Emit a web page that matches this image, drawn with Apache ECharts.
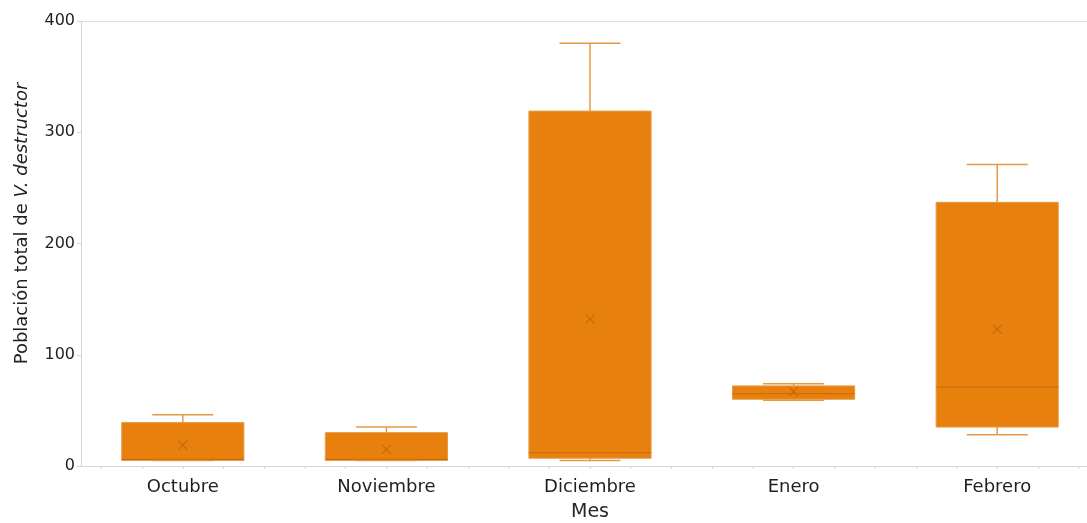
<!DOCTYPE html>
<html>
<head>
<meta charset="utf-8">
<script src="https://cdn.jsdelivr.net/npm/echarts@6/dist/echarts.min.js"></script>
<style>
  html, body { margin: 0; padding: 0; background: #fff; overflow: hidden; }
  #chart { width: 1087px; height: 523px; }
</style>
</head>
<body>
<div id="chart"></div>
<script>
// datos
var meses = ['Octubre', 'Noviembre', 'Diciembre', 'Enero', 'Febrero'];
var minimos = [5, 5, 5, 59, 28];
var q1 = [5, 5, 7, 60, 35];
var medianas = [6, 6, 12, 65, 71];
var q3 = [39, 30, 319, 72, 237];
var maximos = [46, 35, 380, 74, 271];
var medias = [19, 15, 132, 67, 123];
var yTicks = [0, 100, 200, 300, 400];

var relleno = '#E8800D';
var bigote = '#E69A45';
var oscuro = '#C9680E';

var datos = meses.map(function (m, i) {
  return [i, minimos[i], q1[i], medianas[i], q3[i], maximos[i], medias[i]];
});

function renderItem(params, api) {
  var i = api.value(0);
  var band = api.size([1, 0])[0];
  var boxW = band * 0.6;
  var capW = boxW * 0.5;
  var pMin = api.coord([i, api.value(1)]);
  var pQ1 = api.coord([i, api.value(2)]);
  var pMed = api.coord([i, api.value(3)]);
  var pQ3 = api.coord([i, api.value(4)]);
  var pMax = api.coord([i, api.value(5)]);
  var pMean = api.coord([i, api.value(6)]);
  var x = pMin[0];
  var ls = { stroke: bigote, lineWidth: 1.5 };
  var s = 4.5;
  return {
    type: 'group',
    children: [
      { type: 'line', shape: { x1: x, y1: pMax[1], x2: x, y2: pQ3[1] }, style: ls },
      { type: 'line', shape: { x1: x, y1: pQ1[1], x2: x, y2: pMin[1] }, style: ls },
      { type: 'line', shape: { x1: x - capW / 2, y1: pMax[1], x2: x + capW / 2, y2: pMax[1] }, style: ls },
      { type: 'line', shape: { x1: x - capW / 2, y1: pMin[1], x2: x + capW / 2, y2: pMin[1] }, style: ls },
      { type: 'rect', shape: { x: x - boxW / 2, y: pQ3[1], width: boxW, height: pQ1[1] - pQ3[1] },
        style: { fill: relleno, stroke: bigote, lineWidth: 1 } },
      { type: 'line', shape: { x1: x - boxW / 2, y1: pMed[1], x2: x + boxW / 2, y2: pMed[1] },
        style: { stroke: oscuro, lineWidth: 1 } },
      { type: 'line', shape: { x1: pMean[0] - s, y1: pMean[1] - s, x2: pMean[0] + s, y2: pMean[1] + s },
        style: { stroke: oscuro, lineWidth: 1.2 } },
      { type: 'line', shape: { x1: pMean[0] - s, y1: pMean[1] + s, x2: pMean[0] + s, y2: pMean[1] - s },
        style: { stroke: oscuro, lineWidth: 1.2 } }
    ]
  };
}

var chart = echarts.init(document.getElementById('chart'));
chart.setOption({
  animation: false,
  textStyle: { fontFamily: 'DejaVu Sans' },
  grid: [
    { left: 81, width: 1018, top: 21, bottom: 57, outerBoundsMode: 'none', containLabel: false },
    { left: 101.36, width: 977.28, top: 21, bottom: 57, outerBoundsMode: 'none', containLabel: false }
  ],
  xAxis: [
    {
      type: 'category',
      gridIndex: 0,
      data: meses,
      name: 'Mes',
      nameLocation: 'middle',
      nameGap: 37,
      nameTextStyle: { fontSize: 19, color: '#262626' },
      axisLine: { lineStyle: { color: '#d6d6d6' } },
      axisTick: { show: false },
      axisLabel: { fontSize: 18, color: '#1f1f1f', margin: 12 }
    },
    {
      type: 'value',
      gridIndex: 1,
      min: -0.4,
      max: 4.4,
      interval: 0.2,
      axisLine: { show: false },
      axisTick: { show: true, length: 3, lineStyle: { color: '#d6d6d6' } },
      axisLabel: { show: false },
      splitLine: { show: false }
    },
    {
      // borde superior
      type: 'category',
      gridIndex: 0,
      position: 'top',
      data: meses,
      axisLine: { show: true, lineStyle: { color: '#dedede' } },
      axisTick: { show: false },
      axisLabel: { show: false },
      splitLine: { show: false }
    }
  ],
  yAxis: [
    {
      type: 'value',
      gridIndex: 0,
      min: yTicks[0],
      max: yTicks[yTicks.length - 1],
      interval: 100,
      name: '{a|Población total de }{b|V. destructor}',
      nameLocation: 'middle',
      nameGap: 50,
      nameTextStyle: {
        padding: [0, 0, 0, 40],
        rich: {
          a: { fontSize: 18, color: '#1f1f1f', fontFamily: 'DejaVu Sans' },
          b: { fontSize: 18, color: '#1f1f1f', fontFamily: 'DejaVu Sans', fontStyle: 'italic' }
        }
      },
      axisLine: { show: true, lineStyle: { color: '#d6d6d6' } },
      axisTick: { show: true, length: 4, lineStyle: { color: '#d6d6d6' } },
      axisLabel: { fontSize: 16, color: '#1f1f1f', margin: 6 },
      splitLine: { show: false }
    },
    {
      type: 'value',
      gridIndex: 1,
      min: 0,
      max: 400,
      show: false
    }
  ],
  series: [
    {
      type: 'custom',
      xAxisIndex: 0,
      yAxisIndex: 0,
      renderItem: renderItem,
      encode: { x: 0, y: [1, 2, 3, 4, 5, 6] },
      data: datos
    }
  ]
});
</script>
</body>
</html>
